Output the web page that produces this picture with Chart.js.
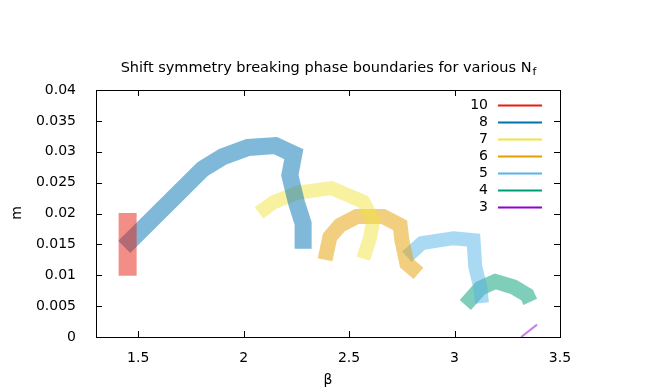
<!DOCTYPE html>
<html>
<head>
<meta charset="utf-8">
<script src="https://cdn.jsdelivr.net/npm/chart.js@4"></script>
<style>
  body { margin: 0; background: #fff; }
  canvas { display: block; }
</style>
</head>
<body>
<canvas id="chartPhase" width="654" height="392"></canvas>
<script>
// Phase boundaries, one band per Nf (beta, m)
const nf10Beta = [1.45, 1.45];
const nf10M = [0.0099, 0.0201];

const nf8Beta = [1.434, 1.806, 1.901, 2.021, 2.151, 2.238, 2.219, 2.251, 2.282, 2.282];
const nf8M = [0.0146, 0.0272, 0.0292, 0.0307, 0.0310, 0.0296, 0.0262, 0.0217, 0.0184, 0.0143];

const nf7Beta = [2.073, 2.14, 2.259, 2.417, 2.567, 2.615, 2.599, 2.567];
const nf7M = [0.0201, 0.0218, 0.0234, 0.0241, 0.0219, 0.0189, 0.0160, 0.0127];

const nf6Beta = [2.386, 2.409, 2.457, 2.536, 2.662, 2.742, 2.75, 2.774, 2.829];
const nf6M = [0.0125, 0.0162, 0.0181, 0.0195, 0.0195, 0.0181, 0.0157, 0.0119, 0.0103];

const nf5Beta = [2.774, 2.845, 2.995, 3.09, 3.098, 3.122, 3.13];
const nf5M = [0.0130, 0.0152, 0.0160, 0.0157, 0.0114, 0.0081, 0.0055];

const nf4Beta = [3.051, 3.122, 3.193, 3.28, 3.344, 3.359];
const nf4M = [0.0052, 0.0079, 0.0090, 0.0081, 0.0068, 0.0057];

const nf3Beta = [3.316, 3.391];
const nf3M = [0.0, 0.002];

const seriesLabels = ['10', '8', '7', '6', '5', '4', '3'];
const seriesColors = ['#e51e10', '#0072b2', '#f0e442', '#e69f00', '#56b4e9', '#009e73', '#9400d3'];
const seriesWidths = [18, 17, 14, 15, 14, 15, 2];

const xTicks = [1.5, 2, 2.5, 3, 3.5];
const yTicks = [0, 0.005, 0.01, 0.015, 0.02, 0.025, 0.03, 0.035, 0.04];

const FONT = 'DejaVu Sans';

function toPoints(betas, ms) {
  return betas.map((b, i) => ({ x: b, y: ms[i] }));
}

function withAlpha(hex, a) {
  const r = parseInt(hex.slice(1, 3), 16);
  const g = parseInt(hex.slice(3, 5), 16);
  const b = parseInt(hex.slice(5, 7), 16);
  return `rgba(${r},${g},${b},${a})`;
}

const allData = [
  toPoints(nf10Beta, nf10M),
  toPoints(nf8Beta, nf8M),
  toPoints(nf7Beta, nf7M),
  toPoints(nf6Beta, nf6M),
  toPoints(nf5Beta, nf5M),
  toPoints(nf4Beta, nf4M),
  toPoints(nf3Beta, nf3M),
];

const datasets = allData.map((pts, i) => ({
  label: seriesLabels[i],
  data: pts,
  showLine: true,
  borderColor: withAlpha(seriesColors[i], 0.5),
  borderWidth: seriesWidths[i],
  borderJoinStyle: 'miter',
  borderCapStyle: 'butt',
  pointRadius: 0,
  tension: 0,
  fill: false,
}));

// Frame, inward ticks, title, axis labels and legend (gnuplot style)
const gnuplotDecor = {
  id: 'gnuplotDecor',
  afterDraw(chart) {
    const ctx = chart.ctx;
    const a = chart.chartArea;
    const xs = chart.scales.x;
    const ys = chart.scales.y;
    ctx.save();

    // border
    ctx.strokeStyle = '#000';
    ctx.lineWidth = 1;
    ctx.strokeRect(Math.round(a.left) + 0.5, Math.round(a.top) + 0.5,
      Math.round(a.right - a.left), Math.round(a.bottom - a.top));

    // ticks
    const tl = 6;
    ctx.beginPath();
    xTicks.forEach((v) => {
      const px = Math.round(xs.getPixelForValue(v)) + 0.5;
      ctx.moveTo(px, a.bottom); ctx.lineTo(px, a.bottom - tl);
      ctx.moveTo(px, a.top); ctx.lineTo(px, a.top + tl);
    });
    yTicks.forEach((v) => {
      const py = Math.round(ys.getPixelForValue(v)) + 0.5;
      ctx.moveTo(a.left, py); ctx.lineTo(a.left + tl, py);
      ctx.moveTo(a.right, py); ctx.lineTo(a.right - tl, py);
    });
    ctx.stroke();

    // title with subscript
    ctx.fillStyle = '#000';
    ctx.textBaseline = 'alphabetic';
    const main = 'Shift symmetry breaking phase boundaries for various N';
    const sub = 'f';
    ctx.font = `14.5px "${FONT}"`;
    const wMain = ctx.measureText(main).width;
    ctx.font = `11px "${FONT}"`;
    const wSub = ctx.measureText(sub).width;
    const cx = (a.left + a.right) / 2;
    const x0 = cx - (wMain + wSub) / 2;
    ctx.font = `14.5px "${FONT}"`;
    ctx.textAlign = 'left';
    ctx.fillText(main, x0, 72);
    ctx.font = `11px "${FONT}"`;
    ctx.fillText(sub, x0 + wMain + 1, 75);

    // axis labels
    ctx.font = `14px "${FONT}"`;
    ctx.textAlign = 'center';
    ctx.textBaseline = 'middle';
    ctx.fillText('β', cx, 380);
    ctx.save();
    ctx.translate(17, 213);
    ctx.rotate(-Math.PI / 2);
    ctx.fillText('m', 0, 0);
    ctx.restore();

    // legend
    ctx.font = `14px "${FONT}"`;
    ctx.textAlign = 'right';
    seriesLabels.forEach((lab, i) => {
      const y = 105.5 + i * 17;
      ctx.fillStyle = '#000';
      ctx.fillText(lab, 488, y);
      ctx.strokeStyle = seriesColors[i];
      ctx.lineWidth = 2;
      ctx.beginPath();
      ctx.moveTo(498, y);
      ctx.lineTo(542, y);
      ctx.stroke();
    });

    ctx.restore();
  },
};

const ctxPhase = document.getElementById('chartPhase').getContext('2d');
const chartPhase = new Chart(ctxPhase, {
  type: 'scatter',
  data: { datasets: datasets },
  options: {
    responsive: false,
    animation: false,
    layout: { padding: { left: 0, top: 90, right: 94, bottom: 0 } },
    plugins: {
      legend: { display: false },
      title: { display: false },
      tooltip: { enabled: false },
    },
    scales: {
      x: {
        type: 'linear',
        min: 1.3,
        max: 3.5,
        grid: { display: false },
        border: { display: false },
        afterBuildTicks: (s) => { s.ticks = xTicks.map((v) => ({ value: v })); },
        afterFit: (s) => { s.height = 55; },
        ticks: {
          color: '#000',
          padding: 5,
          maxRotation: 0,
          font: { family: FONT, size: 14 },
          callback: (v) => String(v),
        },
      },
      y: {
        type: 'linear',
        min: 0,
        max: 0.04,
        grid: { display: false },
        border: { display: false },
        afterBuildTicks: (s) => { s.ticks = yTicks.map((v) => ({ value: v })); },
        afterFit: (s) => { s.width = 96; },
        ticks: {
          color: '#000',
          padding: 12,
          font: { family: FONT, size: 14 },
          callback: (v) => String(v),
        },
      },
    },
  },
  plugins: [gnuplotDecor],
});
</script>
</body>
</html>
